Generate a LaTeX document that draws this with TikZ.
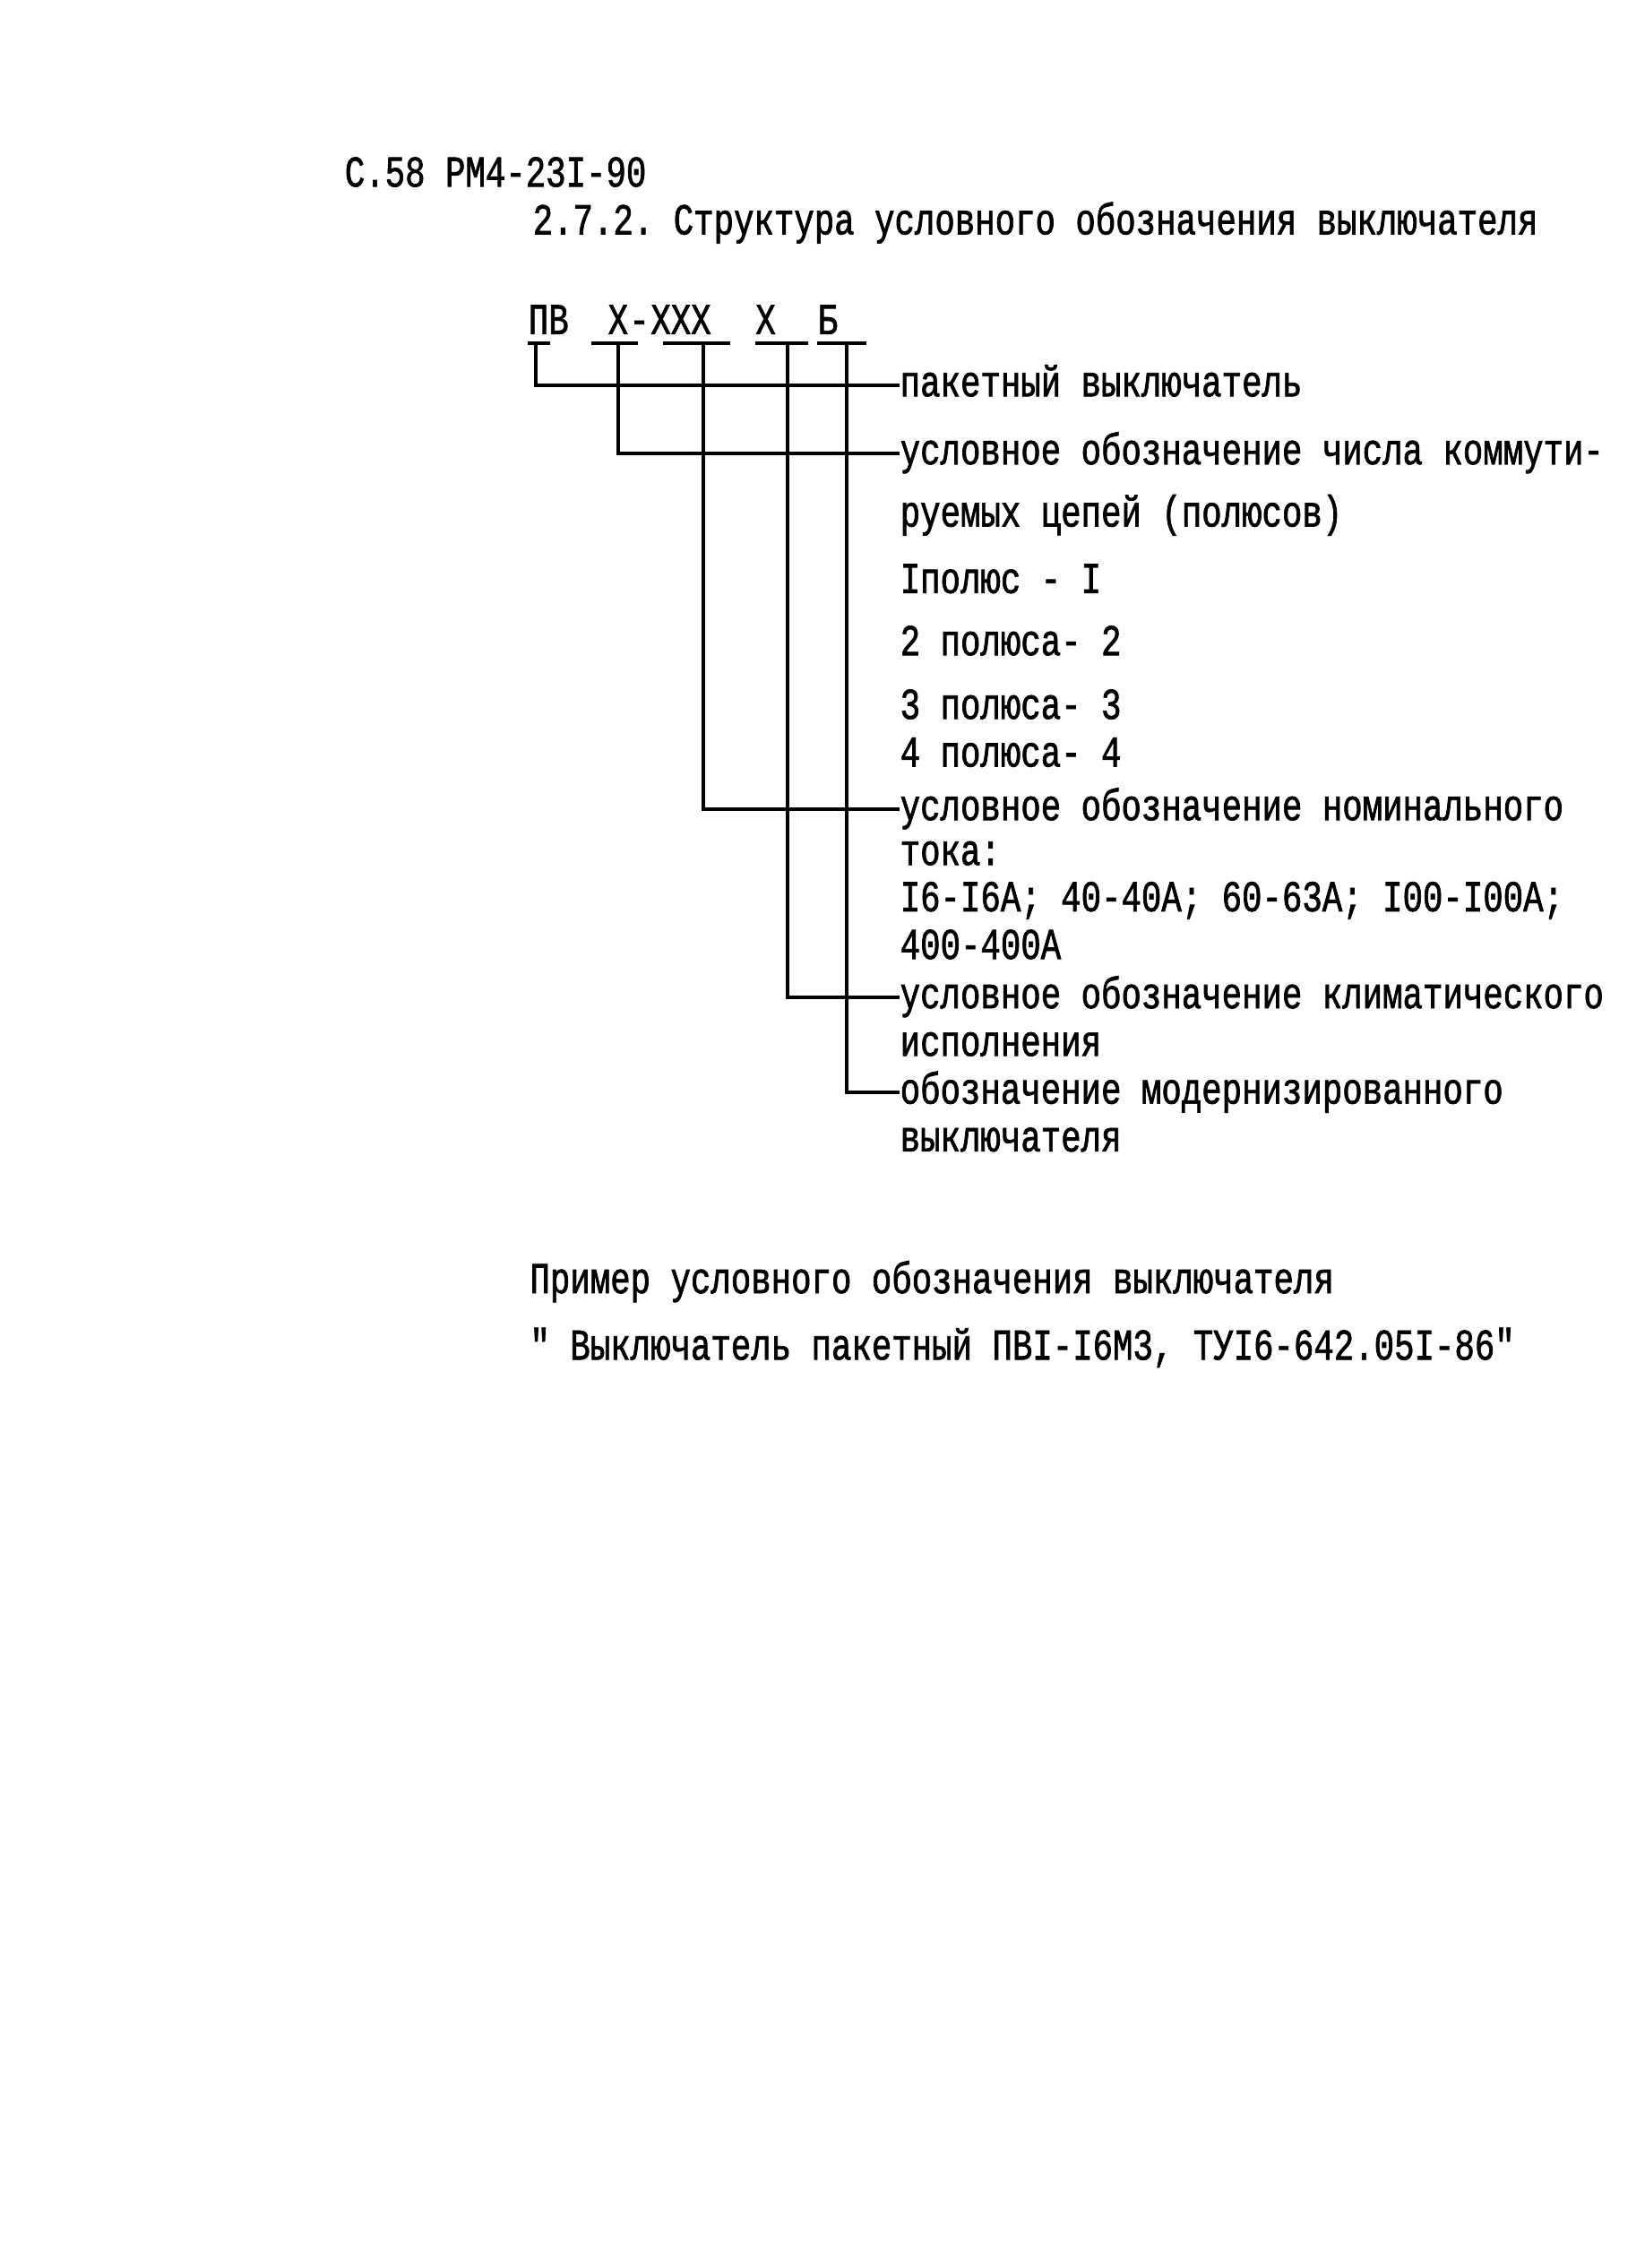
\documentclass[tikz,border=0pt]{standalone}
\usepackage{fontspec}
\setmonofont[FakeStretch=0.76, FakeBold=1.4]{Liberation Mono}
\usetikzlibrary{positioning, calc}
\newcommand{\typew}{\ttfamily\fontsize{14}{16}\selectfont}

\begin{document}
\begin{tikzpicture}[
    x=0.016139cm, y=-0.016139cm,
    every node/.style={font=\typew},
    txt/.style={anchor=base west, inner sep=0pt},
    code/.style={anchor=base west, inner xsep=0pt, inner ysep=2.75pt, text height=8pt, text depth=0pt},
    desc/.style={anchor=base west, inner sep=0pt, text height=7pt, text depth=0pt},
    lead/.style={line width=1.1pt}
]
\useasboundingbox (0,0) rectangle (1137,1568);

% heading
\node[txt] (page) at (238,129) {С.58 РМ4-23I-90};
\node[txt] (title) at (368,162) {2.7.2. Структура условного обозначения выключателя};

% designation
\node[code] (pv) at (365,231) {ПВ};
\node[code] (np) at (420,231) {Х};
\node[code, right=0pt of np.base east, anchor=base west] (dash) {-};
\node[code, right=0pt of dash.base east, anchor=base west] (nc) {ХХХ};
\node[code] (ncl) at (522,231) {Х};
\node[code] (nm) at (565,231) {Б};

% explanations
\node[desc] (d1) at (622,274) {пакетный выключатель};
\node[desc] (d2) at (622,321) {условное обозначение числа коммути-};
\node[desc] (d3) at (622,364) {руемых цепей (полюсов)};
\node[desc] (d4) at (622,410) {Iполюс - I};
\node[desc] (d5) at (622,453) {2 полюса- 2};
\node[desc] (d6) at (622,497) {3 полюса- 3};
\node[desc] (d7) at (622,530) {4 полюса- 4};
\node[desc] (d8) at (622,567) {условное обозначение номинального};
\node[desc] (d9) at (622,598) {тока:};
\node[desc] (d10) at (622,630) {I6-I6A; 40-40A; 60-63A; I00-I00A;};
\node[desc] (d11) at (622,663) {400-400A};
\node[desc] (d12) at (622,697) {условное обозначение климатического};
\node[desc] (d13) at (622,730) {исполнения};
\node[desc] (d14) at (622,763) {обозначение модернизированного};
\node[desc] (d15) at (622,796) {выключателя};

% ticks
\draw[lead] (pv.south west) -- ([xshift=-6]pv.south east);
\draw[lead] ([xshift=-5]np.south west) -- ([xshift=3]np.south east);
\draw[lead] ([xshift=4]nc.south west) -- ([xshift=6]nc.south east);
\draw[lead] (ncl.south west) -- ([xshift=10]ncl.south east);
\draw[lead] (nm.south west) -- ([xshift=9]nm.south east);

% leaders
\draw[lead] ([xshift=-4]pv.south) |- (d1.west);
\draw[lead] (np.south) |- (d2.west);
\draw[lead] ([xshift=7]nc.south) |- (d8.west);
\draw[lead] ([xshift=7]ncl.south) |- (d12.west);
\draw[lead] ([xshift=6]nm.south) |- (d14.west);

% example
\node[txt] (ex1) at (366,894) {Пример условного обозначения выключателя};
\node[txt] (ex2) at (366,940) {" Выключатель пакетный ПВI-I6М3, ТУI6-642.05I-86"};
\end{tikzpicture}
\end{document}
